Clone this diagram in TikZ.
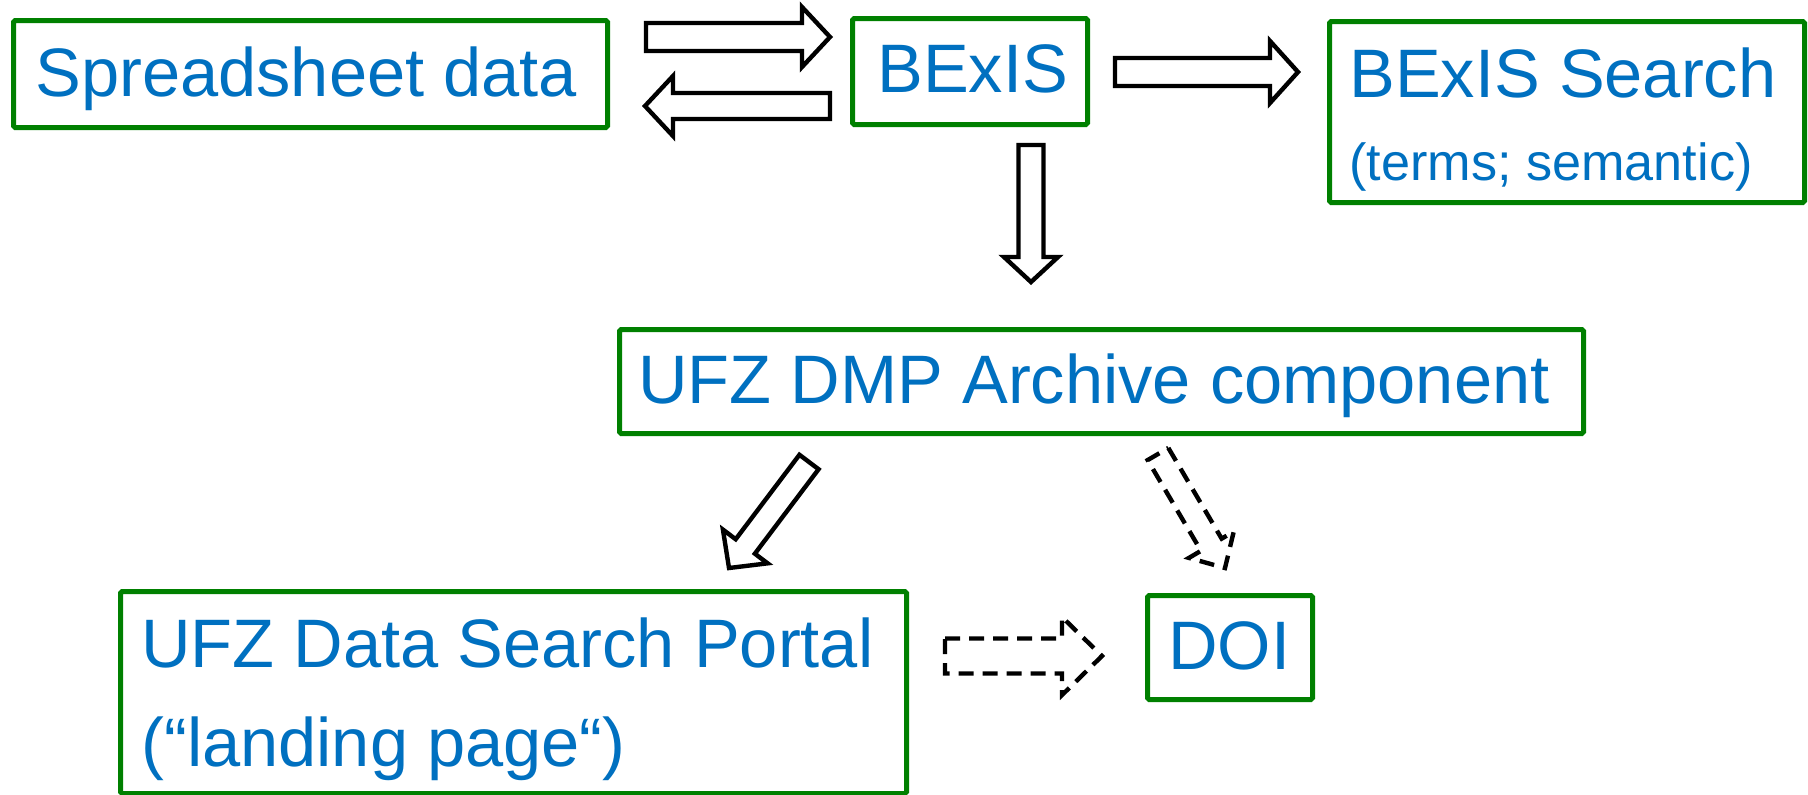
\documentclass[tikz,border=0pt]{standalone}
\usepackage{fontspec}
\setmainfont{Liberation Sans}
\usetikzlibrary{calc}
\definecolor{txtblue}{HTML}{0070C0}
\definecolor{boxgreen}{HTML}{008000}
\newcommand\blockarrow[6]{%
  \coordinate (ba-h) at ($(#3)!#6!(#2)$);
  \draw[#1] ($(#2)!#4!90:(#3)$) -- ($(ba-h)!#4!90:(#3)$) -- ($(ba-h)!#5!90:(#3)$) -- (#3)
    -- ($(ba-h)!#5!-90:(#3)$) -- ($(ba-h)!#4!-90:(#3)$) -- ($(#2)!#4!-90:(#3)$) -- cycle;}
\begin{document}
\begin{tikzpicture}[x=0.5pt,y=-0.5pt,
  box/.style={draw=boxgreen,line width=2.5pt,rounded corners=0.8pt,inner sep=0pt,anchor=north west},
  lbl/.style={text=txtblue,anchor=base west,inner sep=0pt,font=\fontsize{34.3}{40}\selectfont},
  slbl/.style={text=txtblue,anchor=base west,inner sep=0pt,font=\fontsize{26.1}{30}\selectfont},
  barrow/.style={draw=black,line width=2.2pt,line join=miter,fill=white},
  darrow/.style={barrow,dash pattern=on 7.5pt off 4.5pt}]
\useasboundingbox (0,0) rectangle (1808,794);
% boxes
\node[box,minimum width=297pt,minimum height=53.5pt] (sheet) at (11,18) {};
\node[box,minimum width=117.5pt,minimum height=53pt] (bexis) at (850,16) {};
\node[box,minimum width=237.5pt,minimum height=90.5pt] (search) at (1327,19) {};
\node[box,minimum width=482pt,minimum height=52pt] (dmp) at (617,327) {};
\node[box,minimum width=393pt,minimum height=101pt] (portal) at (118,589) {};
\node[box,minimum width=82.5pt,minimum height=52pt] (doi) at (1145,593) {};
% labels
\node[lbl] (tsheet) at (35,96) {Spreadsheet data};
\node[lbl] (tbexis) at (877,92) {BExIS};
\node[lbl] (tsearch) at (1349,97) {BExIS Search};
\node[slbl] (tsearch2) at (1349,180) {(terms; semantic)};
\node[lbl] (tdmp) at (638,403) {UFZ DMP Archive component};
\node[lbl] (tportal) at (141,667) {UFZ Data Search Portal};
\node[lbl] (tportal2) at (141,766) {(“landing page“)};
\node[lbl] (tdoi) at (1168,669) {DOI};
% arrow anchors
\coordinate (a1s) at (646,37);   \coordinate (a1e) at (830,37);
\coordinate (a2s) at (830,106);  \coordinate (a2e) at (645,106);
\coordinate (a3s) at (1115,72);  \coordinate (a3e) at (1298,72);
\coordinate (a4s) at (1031,145); \coordinate (a4e) at (1031,282);
\coordinate (a5s) at (809,462);  \coordinate (a5e) at (729,568);
\coordinate (a6s) at (1158,454); \coordinate (a6e) at (1225,568);
\coordinate (a7s) at (945,656);  \coordinate (a7e) at (1102,656);
\blockarrow{barrow}{a1s}{a1e}{7pt}{15pt}{14pt}
\blockarrow{barrow}{a2s}{a2e}{6.5pt}{15pt}{14pt}
\blockarrow{barrow}{a3s}{a3e}{7pt}{15.5pt}{14pt}
\blockarrow{barrow}{a4s}{a4e}{6.25pt}{13.5pt}{12.5pt}
\blockarrow{barrow}{a5s}{a5e}{6pt}{14pt}{13.5pt}
\blockarrow{darrow}{a6s}{a6e}{6pt}{13pt}{13.5pt}
\blockarrow{darrow}{a7s}{a7e}{8.75pt}{19.5pt}{20pt}
\end{tikzpicture}
\end{document}
